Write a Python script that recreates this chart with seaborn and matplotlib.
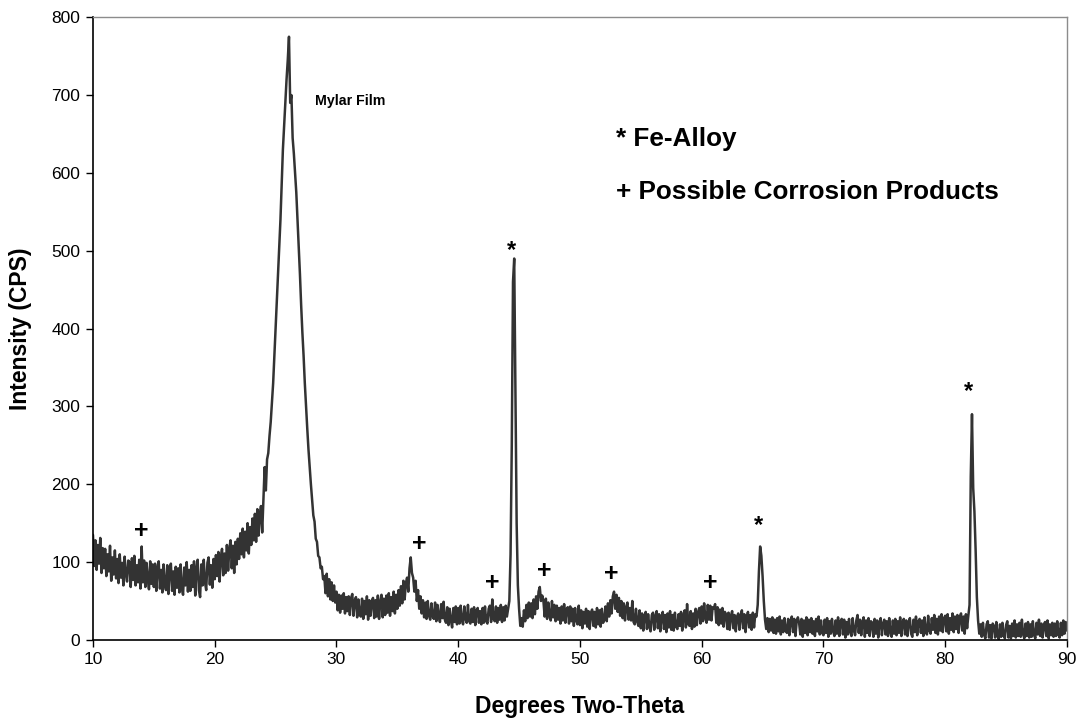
import numpy as np
import pandas as pd
import matplotlib
matplotlib.use("Agg")
import matplotlib.pyplot as plt
import seaborn as sns

# Scan grid: 10.0 .. 90.0 deg two-theta, 0.1 deg step (801 points)
two_theta = np.round(np.arange(801) * 0.1 + 10.0, 1)

# Intensity (CPS), one row per degree (x.0 .. x.9)
intensity_10_30 = [
    135, 95, 128, 90, 122, 98, 131, 86, 118, 92,
    117, 82, 110, 88, 121, 76, 106, 84, 115, 79,
    104, 73, 110, 80, 99, 70, 107, 84, 75, 102,
    100, 68, 105, 77, 108, 70, 96, 74, 103, 66,
    120, 74, 102, 68, 99, 79, 65, 101, 72, 97,
    68, 98, 63, 92, 101, 66, 90, 61, 97, 70,
    64, 96, 59, 91, 98, 63, 88, 58, 94, 67,
    92, 61, 97, 66, 58, 93, 70, 100, 62, 90,
    63, 96, 68, 101, 57, 92, 103, 64, 55, 97,
    70, 103, 74, 64, 99, 106, 71, 96, 67, 104,
    78, 109, 82, 113, 75, 106, 117, 83, 111, 86,
    122, 89, 117, 128, 92, 121, 86, 126, 97, 130,
    104, 137, 110, 143, 106, 139, 115, 150, 111, 145,
    122, 156, 128, 162, 126, 168, 134, 160, 172, 138,
    180, 222, 192, 232, 240, 262, 280, 305, 330, 365,
    400, 435, 470, 505, 540, 585, 630, 660, 690, 720,
    745, 775, 690, 700, 645, 625, 600, 575, 540, 505,
    470, 430, 395, 365, 330, 300, 272, 245, 222, 200,
    180, 160, 152, 130, 126, 108, 106, 92, 94, 78,
    82, 60, 85, 56, 78, 52, 74, 50, 70, 48,
]
intensity_30_50 = [
    62, 38, 58, 35, 57, 40, 60, 34, 55, 37,
    56, 32, 54, 59, 31, 50, 55, 29, 52, 33,
    30, 53, 27, 50, 33, 56, 26, 51, 31, 49,
    54, 28, 51, 30, 57, 27, 49, 58, 29, 53,
    32, 57, 35, 60, 31, 55, 37, 62, 34, 58,
    40, 64, 44, 69, 47, 76, 52, 73, 80, 62,
    92, 106, 86, 80, 62, 76, 50, 64, 40, 56,
    34, 51, 29, 48, 27, 50, 31, 26, 47, 30,
    27, 48, 24, 45, 31, 23, 46, 28, 49, 26,
    22, 42, 19, 40, 25, 16, 41, 23, 43, 20,
    41, 21, 44, 25, 20, 43, 27, 22, 45, 24,
    21, 40, 23, 42, 19, 38, 41, 22, 37, 20,
    41, 22, 43, 24, 21, 40, 44, 23, 52, 27,
    24, 43, 22, 41, 26, 45, 23, 42, 25, 44,
    30, 40, 50, 110, 250, 460, 490, 320, 150, 70,
    40, 18, 28, 17, 38, 24, 45, 28, 48, 30,
    47, 28, 52, 33, 56, 40, 62, 68, 50, 57,
    50, 30, 53, 27, 48, 32, 25, 50, 29, 45,
    24, 44, 26, 41, 21, 43, 25, 46, 22, 40,
    42, 21, 43, 24, 40, 18, 41, 25, 20, 44,
]
intensity_50_70 = [
    19, 38, 15, 36, 21, 40, 17, 37, 14, 35,
    39, 18, 36, 16, 41, 20, 38, 17, 40, 22,
    26, 43, 24, 47, 30, 51, 34, 56, 62, 40,
    58, 36, 54, 31, 50, 28, 47, 25, 42, 48,
    26, 41, 25, 50, 23, 20, 40, 24, 18, 38,
    15, 34, 12, 31, 36, 14, 33, 17, 11, 32,
    35, 13, 31, 37, 15, 33, 11, 30, 36, 14,
    32, 10, 34, 16, 37, 13, 32, 12, 35, 17,
    14, 33, 18, 36, 12, 32, 38, 16, 46, 20,
    18, 37, 14, 34, 17, 40, 19, 36, 41, 21,
    43, 24, 47, 28, 22, 45, 26, 44, 25, 42,
    40, 46, 22, 42, 19, 39, 21, 41, 17, 36,
    33, 14, 35, 13, 31, 37, 15, 32, 11, 30,
    34, 13, 31, 38, 15, 33, 10, 29, 36, 16,
    32, 13, 35, 16, 33, 30, 45, 88, 120, 108,
    82, 50, 26, 14, 28, 10, 27, 12, 29, 9,
    26, 8, 28, 11, 30, 7, 25, 10, 28, 12,
    9, 27, 6, 25, 30, 10, 27, 5, 24, 29,
    22, 7, 27, 4, 25, 9, 29, 6, 26, 10,
    28, 8, 24, 5, 27, 11, 30, 7, 25, 9,
]
intensity_70_90 = [
    6, 26, 9, 28, 4, 24, 8, 27, 11, 5,
    25, 8, 29, 5, 24, 27, 7, 26, 3, 23,
    7, 27, 10, 5, 28, 12, 6, 25, 32, 9,
    26, 6, 23, 29, 4, 25, 9, 28, 5, 24,
    22, 4, 27, 8, 25, 3, 23, 28, 6, 21,
    26, 7, 24, 5, 28, 10, 4, 25, 8, 27,
    6, 24, 9, 29, 5, 23, 27, 7, 25, 5,
    23, 28, 8, 4, 26, 10, 30, 6, 24, 27,
    9, 25, 5, 29, 11, 7, 31, 12, 8, 28,
    13, 32, 9, 27, 7, 30, 12, 33, 10, 28,
    31, 11, 33, 8, 28, 13, 34, 10, 30, 14,
    32, 9, 29, 34, 12, 30, 8, 33, 15, 31,
    45, 210, 290, 195, 165, 115, 55, 25, 8, 20,
    4, 22, 6, 2, 20, 24, 3, 19, 2, 21,
    18, 3, 23, 5, 1, 20, 4, 22, 6, 2,
    19, 24, 3, 18, 2, 21, 5, 25, 3, 20,
    5, 22, 4, 26, 7, 2, 21, 5, 23, 3,
    20, 4, 24, 6, 2, 22, 7, 26, 5, 21,
    3, 19, 23, 5, 25, 2, 20, 6, 22, 4,
    21, 5, 24, 7, 3, 22, 6, 25, 8, 23,
    12,
]

# Peak markers: (two-theta, intensity) positions
plus_x = [14.0, 36.8, 42.8, 47.1, 52.6, 60.7]
plus_y = [140, 123, 73, 89, 85, 73]
star_x = [44.4, 64.7, 81.95]
star_y = [504, 150, 322]

x_ticks = list(range(10, 91, 10))
y_ticks = list(range(0, 801, 100))

intensity = intensity_10_30 + intensity_30_50 + intensity_50_70 + intensity_70_90
df = pd.DataFrame({"two_theta": two_theta, "cps": intensity})

sns.set_theme(style="white")
plt.rcParams["font.family"] = ["Liberation Sans", "DejaVu Sans"]
plt.rcParams["text.color"] = "black"
plt.rcParams["axes.labelcolor"] = "black"
plt.rcParams["xtick.color"] = "black"
plt.rcParams["ytick.color"] = "black"

fig = plt.figure(figsize=(10.81, 7.19), dpi=100)
ax = fig.add_axes([0.086, 0.110, 0.901, 0.866])

sns.lineplot(data=df, x="two_theta", y="cps", ax=ax, color="#333333",
             linewidth=1.8, estimator=None, sort=False)

ax.set_xlim(10, 90)
ax.set_ylim(0, 800)
ax.set_xticks(x_ticks)
ax.set_yticks(y_ticks)
ax.tick_params(axis="both", direction="out", length=5, width=1, color="black",
               labelcolor="black", labelsize=12.5, pad=4, bottom=True, left=True)
for s in ["left", "bottom"]:
    ax.spines[s].set_color("black")
    ax.spines[s].set_linewidth(1.2)
for s in ["top", "right"]:
    ax.spines[s].set_color("#8c8c8c")
    ax.spines[s].set_linewidth(1.0)

ax.set_xlabel("Degrees Two-Theta", fontsize=16.5, fontweight="bold", labelpad=20)
ax.set_ylabel("Intensity (CPS)", fontsize=16.5, fontweight="bold", labelpad=14)

for px, py in zip(plus_x, plus_y):
    ax.text(px, py, "+", ha="center", va="center", fontsize=18, fontweight="bold")
for px, py in zip(star_x, star_y):
    ax.text(px, py, "*", ha="center", va="center_baseline", fontsize=17, fontweight="bold")

ax.text(28.2, 693, "Mylar Film", ha="left", va="center", fontsize=10.2, fontweight="bold")
ax.text(53.0, 644, "* Fe-Alloy", ha="left", va="center", fontsize=18.8, fontweight="bold")
ax.text(53.0, 575, "+ Possible Corrosion Products", ha="left", va="center",
        fontsize=18.8, fontweight="bold")

fig.savefig("out.png", dpi=100)
